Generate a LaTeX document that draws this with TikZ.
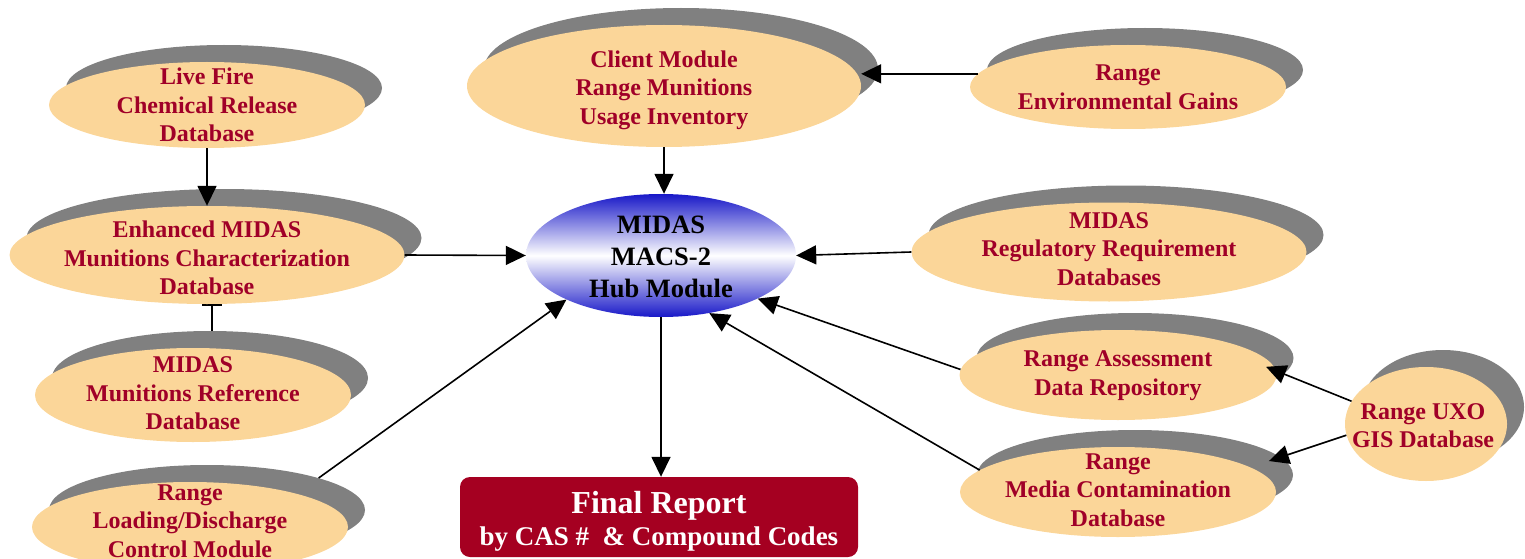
\documentclass[tikz,border=0pt]{standalone}
\usepackage{fontspec}
\setmainfont{Liberation Serif}
\usetikzlibrary{shapes.geometric,shadows,arrows.meta,calc,backgrounds}
\definecolor{peach}{RGB}{251,214,153}
\definecolor{shadowgray}{RGB}{128,128,128}
\definecolor{txtred}{RGB}{160,0,40}
\definecolor{repred}{RGB}{165,0,33}
\definecolor{hubblue}{RGB}{24,24,200}
\begin{document}
\begin{tikzpicture}[x=1pt,y=-1pt,
  oval/.style 2 args={ellipse, fill=peach, minimum width=#1, minimum height=#2, inner sep=0pt,
    general shadow={fill=shadowgray, shadow xshift=17pt, shadow yshift=17pt}},
  lbl/.style={align=center, text=txtred, font=\bfseries\fontsize{24}{28.5}\selectfont, inner sep=0pt},
  arr/.style={line width=1.6pt, -{Triangle[length=20pt,width=19pt]}},
  conn/.style={line width=1.6pt}
]
\useasboundingbox (0,0) rectangle (1525,559);

% ellipses
\node[oval={316}{86}]  (lf)     at (207,105) {};
\node[oval={394}{122}] (client) at (664,86) {};
\node[oval={316}{84}]  (env)    at (1128,87) {};
\node[oval={395}{98}]  (emc)    at (207,255) {};
\node[oval={395}{99}]  (reg)    at (1109,252) {};
\node[oval={316}{94}]  (mr)     at (193,395) {};
\node[oval={317}{90}]  (ra)     at (1118,375) {};
\node[oval={316}{90}]  (mc)     at (1118,492) {};
\node[oval={162}{114}] (uxo)    at (1426,424) {};
\node[oval={316}{90}]  (ld)     at (190,527) {};
\node[ellipse, minimum width=270, minimum height=123, inner sep=0pt,
      top color=hubblue, bottom color=hubblue, middle color=white] (hub) at (661,255.5) {};
\node[rectangle, rounded corners=10pt, fill=repred, minimum width=398, minimum height=80, inner sep=0pt] (fr) at (659,517) {};

% labels
\node[lbl] (lf-t)     at (207,105)  {Live Fire\\Chemical Release\\Database};
\node[lbl] (client-t) at (664,90)   {Client Module\\Range Munitions\\Usage Inventory};
\node[lbl] (env-t)    at (1128,87.5){Range\\Environmental Gains};
\node[lbl] (emc-t)    at (207,258)  {Enhanced MIDAS\\Munitions Characterization\\Database};
\node[lbl] (reg-t)    at (1109,249) {MIDAS\\Regulatory Requirement\\Databases};
\node[lbl] (mr-t)     at (193,393.5){MIDAS\\Munitions Reference\\Database};
\node[lbl] (ra-t)     at (1118,375.5){Range Assessment\\Data Repository};
\node[lbl] (mc-t)     at (1118,490) {Range\\Media Contamination\\Database};
\node[lbl] (uxo-t)    at (1423,425.5){Range UXO\\GIS Database};
\node[lbl] (ld-t)     at (190,521)  {Range\\Loading/Discharge\\Control Module};
\node[align=center, font=\bfseries\fontsize{26.5}{32}\selectfont, inner sep=0pt] (hub-t) at (661,257) {MIDAS\\MACS-2\\Hub Module};
\node[anchor=base, text=white, font=\bfseries\fontsize{32}{36}\selectfont, inner sep=0pt] (fr-t1) at (659,513) {Final Report};
\node[anchor=base, text=white, font=\bfseries\fontsize{27}{32}\selectfont, inner sep=0pt] (fr-t2) at (659,545) {by CAS \#\ \ \& Compound Codes};

% connectors
\begin{pgfonlayer}{background}
\draw[conn, {Bar[width=20pt]}-] ([xshift=5pt]emc.south) -- ([xshift=5pt]emc.south |- mr.north);
\end{pgfonlayer}
\draw[arr] (env.175) -- (env.175 -| client.east);
\draw[arr] (client.south) -- (client.south |- hub.north);
\draw[arr] (lf.south) -- (lf.south |- emc.north);
\draw[arr] (emc.east) -- (hub.west);
\draw[arr] (reg.west) -- (hub.east);
\draw[arr] ([xshift=17pt,yshift=17pt]ld.16) -- (hub.205);
\draw[arr] (ra.178) -- (hub.336);
\draw[arr] (mc.171) -- (hub.310);
\draw[arr] (uxo.163) -- ([xshift=-8pt]ra.3);
\draw[arr] (uxo.188) -- ([shift={(24pt,4pt)}]mc.12);
\draw[arr] (hub.south) -- (hub.south |- fr.north);
\end{tikzpicture}
\end{document}
